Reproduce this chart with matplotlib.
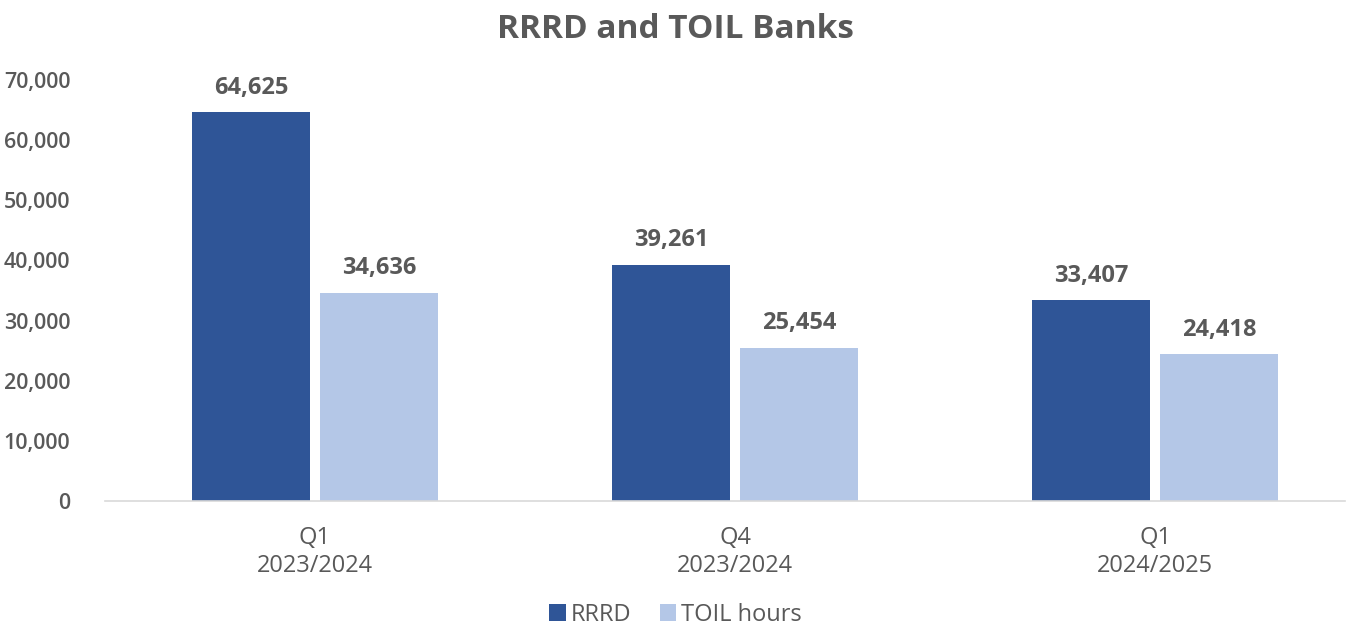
import matplotlib.pyplot as plt
import numpy as np

categories = ["Q1\n2023/2024", "Q4\n2023/2024", "Q1\n2024/2025"]
rrrd = [64625, 39261, 33407]
toil = [34636, 25454, 24418]
series_names = ["RRRD", "TOIL hours"]

plt.rcParams["font.family"] = ["Open Sans", "DejaVu Sans"]
text_color = "#595959"

fig = plt.figure(figsize=(13.51, 6.3), dpi=100)
ax = fig.add_axes([105 / 1351, 1 - 501 / 630, 1240 / 1351, 421 / 630])

x = np.arange(len(categories))
width = 0.281
offset = 0.152
bars1 = ax.bar(x - offset, rrrd, width, color="#2F5597", label=series_names[0])
bars2 = ax.bar(x + offset, toil, width, color="#B4C7E7", label=series_names[1])

for bars in (bars1, bars2):
    for b in bars:
        ax.annotate(f"{int(b.get_height()):,}", (b.get_x() + b.get_width() / 2, b.get_height()),
                    xytext=(0, 9), textcoords="offset points", ha="center", va="bottom",
                    fontsize=17, fontweight="bold", color=text_color)

ax.set_xlim(-0.5, 2.452)
ax.set_ylim(0, 70000)
ax.set_yticks(np.arange(0, 70001, 10000))
ax.yaxis.set_major_formatter(plt.FuncFormatter(lambda v, p: f"{int(v):,}"))
ax.set_xticks(x)
ax.set_xticklabels(categories, fontsize=17, color=text_color, linespacing=1.25)
ax.tick_params(axis="y", length=0, labelsize=15.5, labelcolor=text_color, pad=25)
ax.tick_params(axis="x", length=0, pad=18)
for lbl in ax.get_yticklabels():
    lbl.set_fontweight("semibold")

for side in ("top", "right", "left"):
    ax.spines[side].set_visible(False)
ax.spines["bottom"].set_color("#D9D9D9")
ax.spines["bottom"].set_linewidth(1.2)

fig.text(0.5, 1 - 30 / 630, "RRRD and TOIL Banks", ha="center", va="center",
         fontsize=24, fontweight="bold", color=text_color)

fig.legend(loc="center", bbox_to_anchor=(0.5, 1 - 615 / 630), ncol=2, frameon=False,
           fontsize=17, labelcolor=text_color, handlelength=0.7, handleheight=0.7,
           handletextpad=0.2, columnspacing=1.2)

fig.savefig("out.png", dpi=100)
